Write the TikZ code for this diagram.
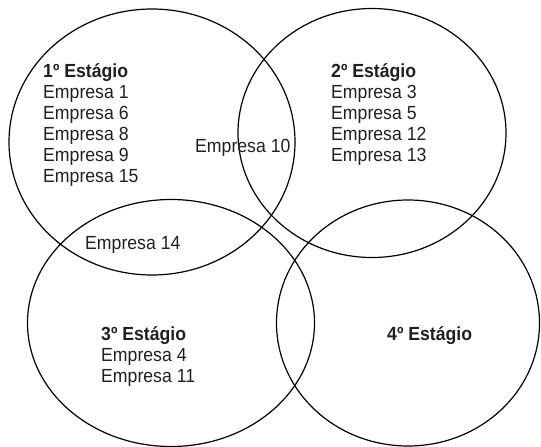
\documentclass[tikz,border=0pt]{standalone}
\usepackage{fontspec}
\setmainfont[FakeStretch=0.93]{Liberation Sans}
\usetikzlibrary{shapes.geometric}
\definecolor{firm-color}{RGB}{35,31,32}

\tikzset{
  stagering/.style={draw, ellipse, line width=1.2pt, inner sep=0pt, outer sep=0pt},
  firm/.style={anchor=base west, inner sep=0pt, text=firm-color,
    font=\fontsize{19}{21}\selectfont},
  stagename/.style={firm, font=\fontsize{19}{21}\selectfont\bfseries},
}

\begin{document}
\begin{tikzpicture}[x=1pt,y=-1pt]
    \useasboundingbox (0,0) rectangle (541,447);

    % the four stages
    \node[stagering, minimum width=286pt, minimum height=266pt] (ring1) at (152,142) {};
    \node[stagering, minimum width=268pt, minimum height=249pt] (ring2) at (372,133) {};
    \node[stagering, minimum width=287pt, minimum height=247pt] (ring3) at (171,323) {};
    \node[stagering, minimum width=263pt, minimum height=246pt] (ring4) at (408,323) {};

    % 1st stage
    \node[stagename] (stage1) at (43,77) {1º Estágio};
    \foreach \n [count=\k] in {1,6,8,9,15}
        \node[firm] (one-\k) at (43,77+21*\k) {Empresa \n};

    % 2nd stage
    \node[stagename] (stage2) at (331,77) {2º Estágio};
    \foreach \n [count=\k] in {3,5,12,13}
        \node[firm] (two-\k) at (331,77+21*\k) {Empresa \n};

    % shared ones
    \node[firm] (both12) at (195,152) {Empresa 10};
    \node[firm] (both13) at (85,249) {Empresa 14};

    % 3rd stage
    \node[stagename] (stage3) at (101,340) {3º Estágio};
    \foreach \n [count=\k] in {4,11}
        \node[firm] (three-\k) at (101,340+21*\k) {Empresa \n};

    % 4th stage
    \node[stagename] (stage4) at (387,340) {4º Estágio};
\end{tikzpicture}
\end{document}
